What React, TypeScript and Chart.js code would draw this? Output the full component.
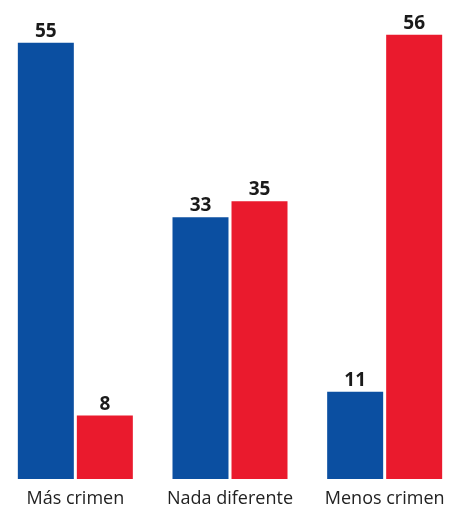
import React, { useEffect, useRef } from "react";
import { Chart, registerables } from "chart.js";

Chart.register(...registerables);

const categories = ["Más crimen", "Nada diferente", "Menos crimen"];
const seriesBlue = [55, 33, 11];
const seriesRed = [8, 35, 56];
const yMax = 60;

const BLUE = "#0B4FA1";
const RED = "#EA1A2D";

const valueLabels = {
  id: "valueLabels",
  afterDatasetsDraw(chart: any) {
    const ctx = chart.ctx;
    ctx.save();
    ctx.font = "bold 19px 'Open Sans'";
    ctx.fillStyle = "#1a1a1a";
    ctx.textAlign = "center";
    ctx.textBaseline = "alphabetic";
    chart.data.datasets.forEach((ds: any, i: number) => {
      const meta = chart.getDatasetMeta(i);
      meta.data.forEach((el: any, j: number) => {
        ctx.fillText(String(ds.data[j]), el.x, el.y - 6);
      });
    });
    ctx.restore();
  },
};

export default function App() {
  const ref = useRef<HTMLCanvasElement>(null);
  useEffect(() => {
    if (!ref.current) return;
    const chart = new Chart(ref.current, {
      type: "bar",
      data: {
        labels: categories,
        datasets: [
          { data: seriesBlue, backgroundColor: BLUE },
          { data: seriesRed, backgroundColor: RED },
        ],
      },
      options: {
        animation: false,
        responsive: false,
        devicePixelRatio: 1,
        layout: { padding: { top: 3, bottom: 0, left: 0, right: 0 } },
        plugins: { legend: { display: false }, tooltip: { enabled: false } },
        datasets: {
          bar: { categoryPercentage: 0.763, barPercentage: 0.949 },
        },
        scales: {
          x: {
            grid: { display: false, drawTicks: false },
            border: { display: false },
            ticks: {
              font: { family: "'Open Sans'", size: 18 },
              color: "#222",
              padding: 9,
              maxRotation: 0,
            },
            afterFit(scale: any) {
              scale.height = 31;
            },
          },
          y: { display: false, min: 0, max: yMax },
        },
      },
      plugins: [valueLabels],
    });
    return () => chart.destroy();
  }, []);
  return (
    <div
      style={{
        position: "fixed",
        left: 0,
        top: 0,
        width: 456,
        height: 510,
        overflow: "hidden",
        background: "#fff",
      }}
    >
      <canvas
        ref={ref}
        width={464}
        height={510}
        style={{ position: "absolute", left: -2, top: 0 }}
      />
    </div>
  );
}
